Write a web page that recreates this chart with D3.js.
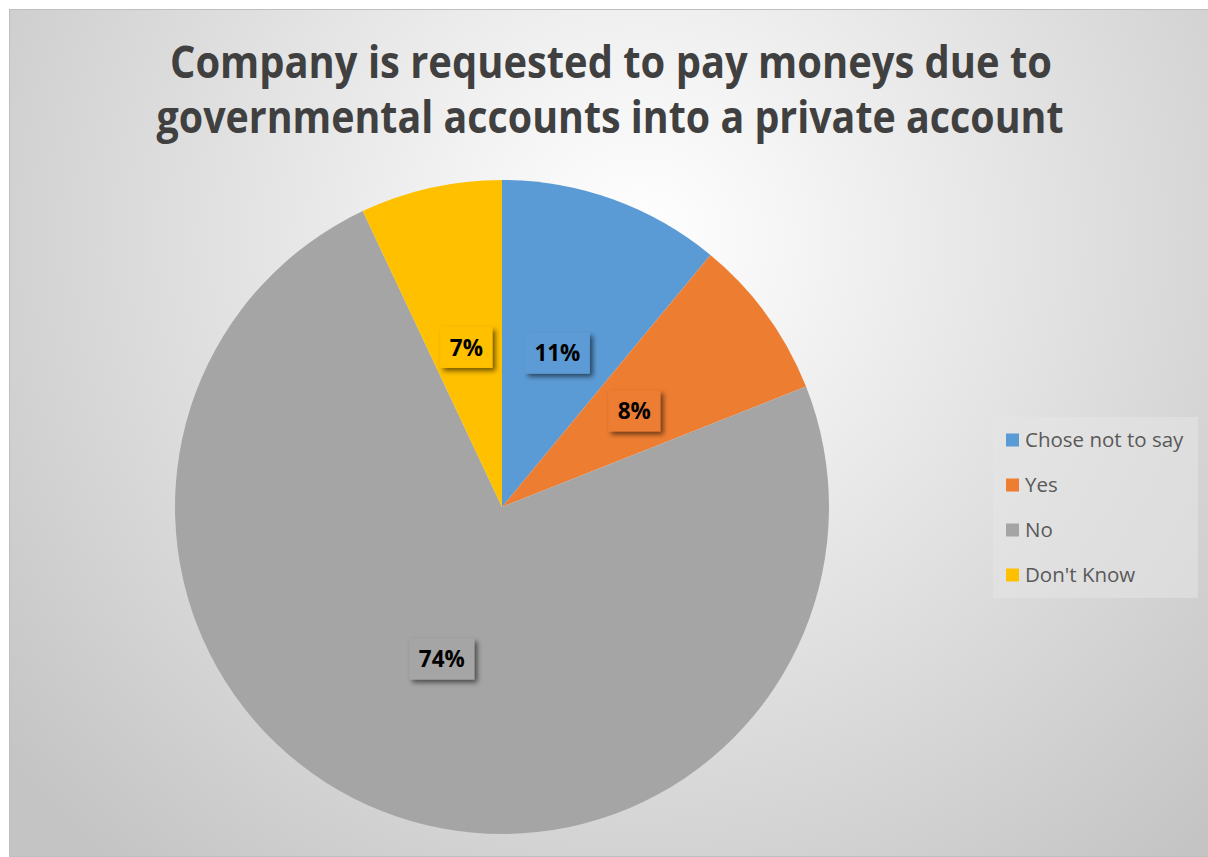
<!DOCTYPE html>
<html>
<head>
<meta charset="utf-8">
<script src="https://cdn.jsdelivr.net/npm/d3@7"></script>
<style>
  html, body { margin: 0; padding: 0; background: #ffffff; }
  svg { display: block; }
</style>
</head>
<body>
<svg id="chart" width="1208" height="857"></svg>
<script>
// Survey answers, in drawing order (clockwise from 12 o'clock)
const categories = ["Chose not to say", "Yes", "No", "Don't Know"];
const shares = [11, 8, 74, 7];
const sliceColors = ["#5B9BD5", "#ED7D31", "#A5A5A5", "#FFC000"];
const titleLines = [
  "Company is requested to pay moneys due to",
  "governmental accounts into a private account"
];

const svg = d3.select("#chart");
const W = 1208, H = 857;
const font = "'Open Sans', 'Liberation Sans', sans-serif";

const defs = svg.append("defs");
const bg = defs.append("radialGradient")
  .attr("id", "bgGrad")
  .attr("gradientUnits", "userSpaceOnUse")
  .attr("cx", 640).attr("cy", 240).attr("r", 820);
bg.append("stop").attr("offset", 0).attr("stop-color", "#ffffff");
bg.append("stop").attr("offset", 0.2).attr("stop-color", "#f4f4f4");
bg.append("stop").attr("offset", 1).attr("stop-color", "#c4c4c4");

const shadow = defs.append("filter").attr("id", "labelShadow")
  .attr("x", "-30%").attr("y", "-30%").attr("width", "170%").attr("height", "170%");
shadow.append("feDropShadow")
  .attr("dx", 3).attr("dy", 3).attr("stdDeviation", 2.6)
  .attr("flood-color", "#000").attr("flood-opacity", 0.55);

// chart area
svg.append("rect")
  .attr("x", 9.5).attr("y", 9.5).attr("width", W - 9).attr("height", H - 10)
  .attr("fill", "url(#bgGrad)")
  .attr("stroke", "#bfbfbf").attr("stroke-width", 1);

// title
const title = svg.append("g");
const titleSpec = [
  { y: 78, w: 882, cx: 611 },
  { y: 133, w: 907, cx: 610 }
];
titleLines.forEach((t, i) => {
  title.append("text")
    .attr("x", titleSpec[i].cx).attr("y", titleSpec[i].y)
    .attr("text-anchor", "middle")
    .attr("font-family", font).attr("font-weight", 700)
    .attr("font-size", 44)
    .attr("fill", "#404040")
    .attr("textLength", titleSpec[i].w)
    .attr("lengthAdjust", "spacingAndGlyphs")
    .text(t);
});

// pie
const cx = 502, cy = 507, R = 327;
const color = d3.scaleOrdinal().domain(categories).range(sliceColors);
const pie = d3.pie().sort(null).value(d => d.value);
const data = categories.map((c, i) => ({ name: c, value: shares[i] }));
const arcs = pie(data);
const arc = d3.arc().innerRadius(0).outerRadius(R);
const labelArc = d3.arc().innerRadius(R * 0.5).outerRadius(R * 0.5);

const g = svg.append("g").attr("transform", `translate(${cx},${cy})`);
g.selectAll("path.slice").data(arcs).join("path")
  .attr("class", "slice")
  .attr("d", arc)
  .attr("fill", d => color(d.data.name));

// data labels in shaded boxes
const total = d3.sum(shares);
const labels = g.selectAll("g.lbl").data(arcs).join("g")
  .attr("class", "lbl")
  .attr("transform", d => `translate(${labelArc.centroid(d)})`);
labels.each(function (d) {
  const sel = d3.select(this);
  const txt = Math.round(d.data.value / total * 100) + "%";
  const box = sel.append("rect").attr("fill", color(d.data.name))
    .attr("filter", "url(#labelShadow)");
  const t = sel.append("text")
    .attr("text-anchor", "middle")
    .attr("dy", "0.36em")
    .attr("font-family", font).attr("font-weight", 700)
    .attr("font-size", 22.5).attr("fill", "#000")
    .text(txt);
  const tw = t.node().getComputedTextLength();
  const bw = tw + 19, bh = 41;
  box.attr("x", -bw / 2).attr("y", -bh / 2).attr("width", bw).attr("height", bh);
});

// legend
const lg = svg.append("g").attr("transform", "translate(993,417)");
lg.append("rect").attr("width", 205).attr("height", 181)
  .attr("fill", "#e6e6e6").attr("fill-opacity", 0.55);
const rowY = d3.scalePoint().domain(categories).range([23, 158]);
const items = lg.selectAll("g.item").data(categories).join("g")
  .attr("class", "item")
  .attr("transform", d => `translate(13,${rowY(d)})`);
items.append("rect").attr("x", 0).attr("y", -6.5).attr("width", 13).attr("height", 13)
  .attr("fill", d => color(d));
items.append("text").attr("x", 19).attr("dy", "0.36em")
  .attr("font-family", font).attr("font-size", 20.5).attr("fill", "#595959")
  .text(d => d);
</script>
</body>
</html>
